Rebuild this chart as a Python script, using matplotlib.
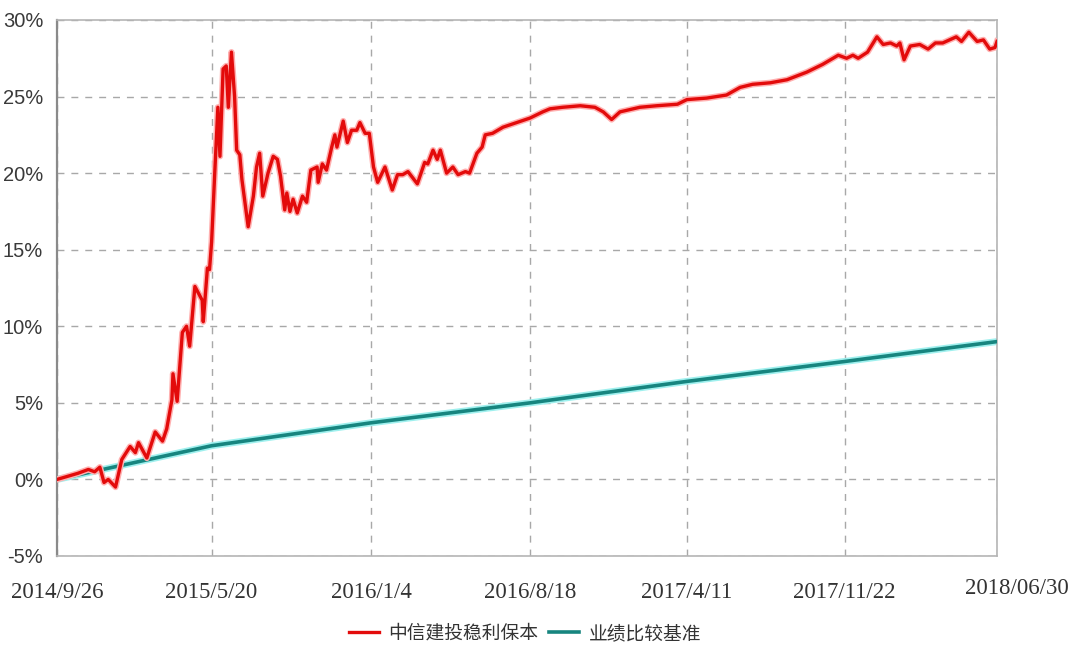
import numpy as np
import matplotlib
matplotlib.use('Agg')
import matplotlib.pyplot as plt
from matplotlib.ticker import FuncFormatter

# trading-day index (0 = 2014/9/26, 900 = 2018/06/30) and cumulative return in %
fund_day = [0, 10, 20, 30, 36, 41, 45, 49, 56, 62, 70, 75, 78, 86, 94, 101, 105,
            110, 111, 115, 120, 124, 127, 132, 139, 140, 144, 146, 148, 151, 154,
            156, 159, 162, 164, 167, 170, 172, 175, 177, 183, 188, 191, 194, 197,
            202, 207, 211, 214, 218, 220, 223, 226, 230, 235, 239, 243, 249, 250,
            254, 258, 263, 266, 268, 274, 278, 282, 287, 290, 295, 299, 303, 307,
            314, 321, 326, 331, 336, 345, 352, 355, 360, 364, 367, 373, 379, 384,
            391, 395, 402, 407, 410, 417, 427, 440, 453, 465, 472, 484, 501, 515,
            523, 531, 539, 558, 574, 594, 603, 622, 641, 654, 666, 683, 699, 718,
            733, 748, 756, 762, 767, 776, 785, 791, 798, 804, 807, 811, 817, 826,
            834, 841, 848, 861, 866, 873, 881, 887, 893, 898, 900]
fund_ret = [0.0, 0.2, 0.4, 0.65, 0.5, 0.8, -0.2, 0.0, -0.5, 1.3, 2.15, 1.75, 2.4,
            1.4, 3.1, 2.5, 3.3, 5.2, 6.9, 5.1, 9.6, 10.0, 8.7, 12.6, 11.7, 10.3,
            13.8, 13.7, 15.5, 20.0, 24.3, 21.1, 26.8, 27.0, 24.3, 27.9, 25.0, 21.5,
            21.2, 19.6, 16.5, 18.5, 20.4, 21.3, 18.5, 20.0, 21.1, 20.9, 19.8, 17.6,
            18.7, 17.5, 18.3, 17.4, 18.5, 18.1, 20.2, 20.4, 19.4, 20.6, 20.2, 21.7,
            22.5, 21.7, 23.4, 22.0, 22.8, 22.8, 23.3, 22.6, 22.6, 20.4, 19.4, 20.4,
            18.9, 19.9, 19.9, 20.1, 19.3, 20.7, 20.6, 21.5, 20.9, 21.5, 20.0, 20.4,
            19.9, 20.1, 20.0, 21.3, 21.7, 22.5, 22.6, 23.0, 23.3, 23.6, 24.0, 24.2,
            24.3, 24.4, 24.3, 24.0, 23.5, 24.0, 24.3, 24.4, 24.5, 24.8, 24.9, 25.1,
            25.6, 25.8, 25.9, 26.1, 26.6, 27.1, 27.7, 27.5, 27.7, 27.5, 27.9, 28.9,
            28.4, 28.5, 28.3, 28.5, 27.4, 28.3, 28.4, 28.1, 28.5, 28.5, 28.9, 28.6,
            29.2, 28.6, 28.7, 28.1, 28.2, 28.6]

bench_day = [0, 148, 301, 453, 603, 754, 900]
bench_ret = [0.0, 2.2, 3.7, 5.0, 6.4, 7.7, 9.0]

tick_days = [0, 148, 301, 453, 603, 754, 900]
tick_labels = ['2014/9/26', '2015/5/20', '2016/1/4', '2016/8/18',
               '2017/4/11', '2017/11/22', '2018/06/30']
y_ticks = [-5, 0, 5, 10, 15, 20, 25, 30]

fund_name = '中信建投稳利保本'
bench_name = '业绩比较基准'

fig = plt.figure(figsize=(10.76, 6.49), dpi=100)
ax = fig.add_axes([0.053, 0.1433, 0.8736, 0.8259])

ax.plot(bench_day, bench_ret, color='#9ff0ee', lw=5, solid_capstyle='round', zorder=2)
l2, = ax.plot(bench_day, bench_ret, color='#17857f', lw=2.6, label=bench_name, zorder=3)
ax.plot(fund_day, fund_ret, color='#ffb0b0', lw=4.5, zorder=4)
l1, = ax.plot(fund_day, fund_ret, color='#e30b0b', lw=2.4, label=fund_name, zorder=5)

ax.set_xlim(0, 900)
ax.set_ylim(-5, 30)
ax.set_yticks(y_ticks)
ax.yaxis.set_major_formatter(FuncFormatter(lambda v, p: f'{v:.0f}%'))
ax.set_xticks(tick_days)
ax.set_xticklabels(tick_labels)

ax.grid(True, color='#a8a8a8', linestyle=(0, (5, 5)), linewidth=1.0)
ax.tick_params(length=0)
for lab in ax.get_yticklabels():
    lab.set_fontfamily(['Liberation Sans Narrow', 'Liberation Sans'])
    lab.set_fontsize(14.5)
    lab.set_color('#3a3a3a')
ax.tick_params(axis='y', pad=10)
ax.tick_params(axis='x', pad=19)
for lab in ax.get_xticklabels():
    lab.set_fontfamily(['Liberation Serif'])
    lab.set_fontsize(16.5)
    lab.set_color('#333333')
last = ax.get_xticklabels()[-1]
last.set_x(900)
import matplotlib.transforms as mtransforms
last.set_transform(last.get_transform() + mtransforms.ScaledTranslation(20 / 100, 4 / 100, fig.dpi_scale_trans))

ax.spines['left'].set_color('#8a8a8a')
ax.spines['left'].set_linewidth(1.6)
for s in ['top', 'right', 'bottom']:
    ax.spines[s].set_color('#b5b5b5')
    ax.spines[s].set_linewidth(1.2)

fig.legend(handles=[l1, l2], loc='center', bbox_to_anchor=(0.488, 0.024), ncol=2,
           frameon=False, handlelength=1.6, handletextpad=0.5, columnspacing=0.6,
           prop={'family': ['Noto Sans CJK SC', 'DejaVu Sans'], 'size': 13.5},
           labelcolor='#333333')

fig.savefig('out.png', dpi=100)
